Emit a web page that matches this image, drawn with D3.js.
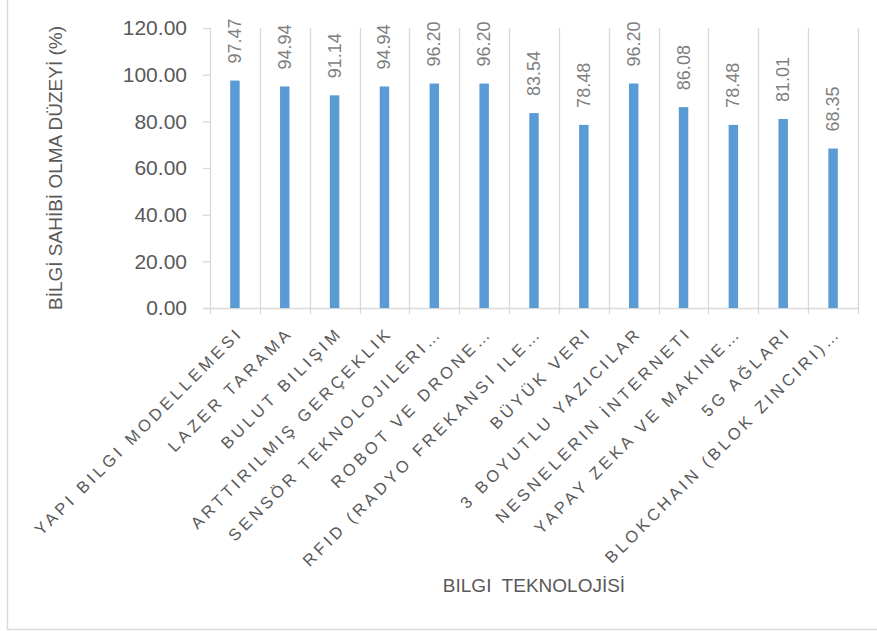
<!DOCTYPE html>
<html><head><meta charset="utf-8">
<script src="https://cdn.jsdelivr.net/npm/d3@7"></script>
<style>body{margin:0;background:#fff}svg{display:block}text{font-family:"Liberation Sans",Arial,sans-serif}</style>
</head><body>
<svg id="c" width="877" height="631"></svg>
<script>
const categories = [
  "YAPI BILGI MODELLEMESI","LAZER TARAMA","BULUT BILIŞIM","ARTTIRILMIŞ GERÇEKLIK",
  "SENSÖR TEKNOLOJILERI…","ROBOT VE DRONE…","RFID (RADYO FREKANSI ILE…","BÜYÜK VERI",
  "3 BOYUTLU YAZICILAR","NESNELERIN İNTERNETI","YAPAY ZEKA VE MAKINE…","5G AĞLARI",
  "BLOKCHAIN (BLOK ZINCIRI)…"
];
const values = [97.47,94.94,91.14,94.94,96.20,96.20,83.54,78.48,96.20,86.08,78.48,81.01,68.35];
const yTicks = [0,20,40,60,80,100,120];
const yTitle = "BİLGİ SAHİBİ OLMA DÜZEYİ (%)";
const xTitle = "BILGI  TEKNOLOJİSİ";

const svg = d3.select("#c");
const L = 210, R = 858, T = 28, B = 308;
const grid = "#D9D9D9", txt = "#595959";

// chart border
svg.append("line").attr("x1",7.5).attr("x2",7.5).attr("y1",0).attr("y2",630).attr("stroke",grid).attr("stroke-width",1.5);
svg.append("line").attr("x1",7).attr("x2",877).attr("y1",629.5).attr("y2",629.5).attr("stroke",grid).attr("stroke-width",1.5);

const x = d3.scaleBand().domain(categories).range([L,R]).paddingInner(0.81).paddingOuter(0.405);
const y = d3.scaleLinear().domain([0,120]).range([B,T]);

// vertical category gridlines
const bounds = d3.range(categories.length+1).map(i => L + i*(R-L)/categories.length);
svg.append("g").selectAll("line").data(bounds).join("line")
  .attr("x1",d=>Math.round(d)+0.5).attr("x2",d=>Math.round(d)+0.5)
  .attr("y1",T).attr("y2",B+6).attr("stroke",grid).attr("stroke-width",1.3);

// y axis
const yAxis = d3.axisLeft(y).tickValues(yTicks).tickFormat(d3.format(".2f")).tickSize(7).tickPadding(16);
const gy = svg.append("g").attr("transform",`translate(${L},0)`).call(yAxis);
gy.select(".domain").remove();
gy.selectAll(".tick line").attr("stroke",grid).attr("stroke-width",1.3);
gy.selectAll(".tick text").attr("fill",txt).style("font-size","21px");

// baseline
svg.append("line").attr("x1",L-7).attr("x2",R).attr("y1",B+0.5).attr("y2",B+0.5).attr("stroke",grid).attr("stroke-width",1.3);

// bars
svg.append("g").selectAll("rect").data(values).join("rect")
  .attr("x",(d,i)=>x(categories[i])).attr("width",x.bandwidth())
  .attr("y",d=>y(d)).attr("height",d=>B-y(d)).attr("fill","#5B9BD5");

// data labels
svg.append("g").selectAll("text").data(values).join("text")
  .attr("transform",(d,i)=>`translate(${x(categories[i])+x.bandwidth()/2+6},${y(d)-17}) rotate(-90)`)
  .attr("text-anchor","start").attr("fill","#7F7F7F").style("font-size","18px")
  .text(d=>d3.format(".2f")(d));

// category labels
svg.append("g").selectAll("text").data(categories).join("text")
  .attr("transform",d=>`translate(${x(d)+x.bandwidth()/2+9},${B+26}) rotate(-45)`)
  .attr("text-anchor","end").attr("fill",txt).style("font-size","16.5px").style("letter-spacing","3.6px")
  .text(d=>d);

// axis titles
svg.append("text").attr("transform",`translate(62,168) rotate(-90)`).attr("text-anchor","middle")
  .attr("fill",txt).style("font-size","19px").text(yTitle);
svg.append("text").attr("x",534).attr("y",592).attr("text-anchor","middle").attr("fill",txt)
  .style("font-size","19px").style("white-space","pre").text(xTitle);
</script>
</body></html>
